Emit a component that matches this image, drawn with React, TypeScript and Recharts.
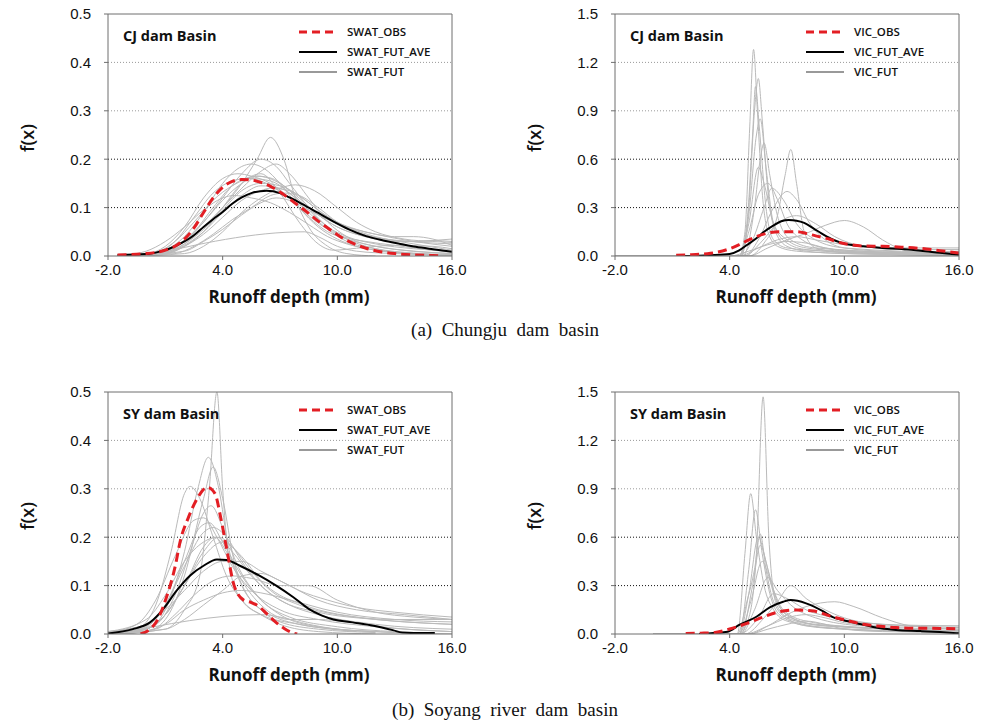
import React from 'react';
import { LineChart, Line, XAxis, YAxis, ReferenceLine } from 'recharts';

type Pt = [number, number];

// ---------- axes ----------
const X_TICKS = [-2, 4, 10, 16];
const SWAT_Y_TICKS = [0, 0.1, 0.2, 0.3, 0.4, 0.5];
const VIC_Y_TICKS = [0, 0.3, 0.6, 0.9, 1.2, 1.5];

// ---------- Chungju (CJ) SWAT ----------
const CJ_SWAT_OBS: Pt[] = [[-1.5,0.002],[0,0.005],[1,0.012],[1.5,0.02],[2,0.035],[2.5,0.058],[3,0.09],[3.5,0.12],[4,0.142],[4.5,0.154],[5,0.158],[5.5,0.157],[6,0.152],[6.5,0.144],[7,0.132],[7.5,0.118],[8,0.103],[8.5,0.088],[9,0.072],[9.5,0.058],[10,0.044],[10.5,0.032],[11,0.023],[11.5,0.016],[12,0.011],[13,0.005],[14,0.002],[15,0.001],[15.5,0]];
const CJ_SWAT_AVE: Pt[] = [[-1.5,0.002],[0,0.004],[0.7,0.009],[1.2,0.015],[2,0.03],[2.5,0.043],[3,0.06],[3.5,0.076],[4,0.091],[4.5,0.108],[5,0.121],[5.5,0.13],[6.3,0.135],[7,0.13],[7.5,0.121],[8,0.111],[8.9,0.091],[9.8,0.071],[10.6,0.055],[11.5,0.041],[12.4,0.032],[13.3,0.025],[14.1,0.019],[15,0.014],[16,0.009]];
const CJ_SWAT_FUT: Pt[][] = [
  [[-1.5,0],[1,0.01],[2,0.03],[3,0.06],[4,0.1],[5,0.15],[5.8,0.2],[6.5,0.245],[7.2,0.2],[7.8,0.12],[8.5,0.06],[9.5,0.02],[10.5,0.005],[12,0]],
  [[-1.5,0],[0,0.003],[1,0.012],[2,0.04],[3,0.09],[4,0.15],[5,0.185],[5.5,0.19],[6.2,0.18],[7,0.15],[8,0.1],[9,0.06],[10,0.035],[11,0.02],[12,0.012],[14,0.005],[16,0.002]],
  [[-1.5,0],[0,0.004],[1,0.02],[2,0.06],[3,0.12],[4,0.16],[4.8,0.17],[5.5,0.165],[6.5,0.15],[7.5,0.12],[8.5,0.08],[9.5,0.05],[10.5,0.035],[12,0.02],[14,0.01],[16,0.005]],
  [[-1.5,0],[0.5,0.005],[1.5,0.02],[2.5,0.05],[3.5,0.1],[4.5,0.145],[5.8,0.165],[7,0.15],[8,0.12],[9,0.085],[10,0.06],[11,0.045],[12,0.035],[13,0.03],[14,0.03],[15,0.032],[16,0.03]],
  [[-1.5,0],[1,0.008],[2,0.025],[3,0.055],[4,0.095],[5,0.135],[6,0.15],[7,0.145],[8,0.125],[9,0.095],[10,0.07],[11,0.055],[12,0.045],[13,0.04],[14,0.04],[15,0.035],[16,0.022]],
  [[-1,0],[1,0.005],[2,0.02],[3,0.045],[4,0.08],[5,0.115],[6,0.135],[6.5,0.14],[7.5,0.135],[8.5,0.11],[9.5,0.08],[10.5,0.06],[12,0.04],[14,0.025],[16,0.012]],
  [[-1,0],[1.5,0.005],[2.5,0.02],[3.5,0.045],[4.5,0.075],[5.5,0.1],[6.5,0.125],[7.2,0.13],[8,0.125],[9,0.1],[10,0.07],[11,0.05],[12.5,0.035],[14,0.03],[15,0.032],[16,0.035]],
  [[0,0],[8.3,0.05],[9,0.04],[10,0.02],[11,0.01],[13,0.005],[16,0.002]],
  [[-1.5,0],[0.5,0.006],[1.5,0.03],[2.5,0.08],[3.5,0.13],[4.5,0.155],[5.3,0.16],[6.3,0.15],[7.3,0.125],[8.3,0.09],[9.3,0.06],[10.3,0.04],[11.5,0.03],[13,0.022],[15,0.012],[16,0.008]],
  [[-1,0],[2,0.01],[3,0.03],[4,0.055],[5,0.085],[6,0.11],[6.8,0.12],[7.5,0.115],[8.5,0.095],[9.5,0.075],[10.5,0.06],[12,0.045],[14,0.03],[16,0.02]],
  [[-1.5,0],[1,0.01],[2,0.03],[3,0.07],[4,0.12],[5,0.17],[6,0.2],[6.8,0.185],[7.5,0.15],[8.5,0.1],[9.5,0.06],[10.5,0.035],[12,0.015],[14,0.005],[16,0.002]],
  [[-1,0],[1,0.004],[2,0.02],[3,0.05],[4,0.1],[5,0.15],[6,0.17],[7,0.13],[8,0.07],[9,0.025],[9.8,0.012],[11,0.016],[13,0.022],[15,0.02],[16,0.015]],
  [[-1,0],[2,0.005],[3,0.02],[4,0.05],[5,0.09],[6,0.12],[7,0.14],[7.8,0.147],[8.8,0.135],[10,0.1],[11,0.07],[12,0.05],[13.5,0.035],[15,0.03],[16,0.028]],
  [[-1.5,0],[0,0.01],[1,0.03],[2,0.06],[3,0.095],[4,0.12],[4.6,0.125],[5.5,0.12],[6.5,0.11],[7.5,0.09],[8.5,0.065],[9.5,0.04],[10.5,0.025],[12,0.012],[14,0.004],[16,0.001]],
  [[-1.5,0],[1,0.008],[2,0.03],[3,0.07],[4,0.115],[5,0.15],[5.8,0.165],[6.6,0.16],[7.5,0.135],[8.5,0.095],[9.5,0.06],[10.5,0.04],[12,0.025],[14,0.015],[16,0.01]],
  [[-1.5,0],[1,0.006],[2,0.022],[3,0.05],[4,0.09],[5,0.125],[6,0.145],[7,0.14],[8,0.115],[9,0.085],[10,0.06],[11,0.045],[12.5,0.035],[14.5,0.028],[16,0.025]],
  [[-1.5,0],[0.5,0.008],[1.5,0.03],[2.5,0.07],[3.5,0.115],[4.5,0.145],[5.5,0.16],[6.5,0.155],[7.5,0.13],[8.5,0.09],[9.5,0.055],[10.5,0.03],[12,0.015],[14,0.006],[16,0.003]],
  [[-1,0],[1,0.006],[2,0.025],[3,0.06],[4,0.1],[5,0.14],[6,0.175],[6.8,0.19],[7.5,0.17],[8.5,0.12],[9.5,0.07],[10.5,0.04],[12,0.02],[16,0.005]],
];

// ---------- Chungju (CJ) VIC ----------
const CJ_VIC_OBS: Pt[] = [[1.2,0.004],[2,0.008],[3,0.017],[4,0.045],[4.5,0.07],[5,0.1],[5.5,0.125],[6,0.142],[6.6,0.151],[7.5,0.151],[8,0.14],[8.5,0.125],[9.2,0.105],[9.8,0.082],[10.3,0.07],[11,0.062],[12,0.06],[13,0.055],[14,0.047],[15,0.033],[16,0.018]];
const CJ_VIC_AVE: Pt[] = [[1.5,0],[3,0.005],[4,0.013],[4.5,0.035],[4.9,0.068],[5.4,0.11],[5.8,0.15],[6.3,0.19],[6.7,0.215],[7.1,0.223],[7.5,0.219],[7.9,0.205],[8.4,0.17],[8.8,0.14],[9.3,0.107],[9.9,0.08],[10.4,0.068],[11,0.06],[12,0.05],[13,0.043],[14,0.033],[15,0.02],[16,0.008]];
const CJ_VIC_FUT: Pt[][] = [
  [[-2,0],[4.5,0],[4.8,0.15],[5.05,0.8],[5.25,1.28],[5.45,0.9],[5.7,0.4],[6,0.15],[6.5,0.06],[7.5,0.03],[9,0.02],[12,0.01],[16,0.005]],
  [[-2,0],[4.6,0],[5.0,0.3],[5.3,0.9],[5.5,1.1],[5.7,0.85],[6.0,0.4],[6.4,0.15],[7,0.06],[8,0.03],[10,0.015],[16,0.005]],
  [[-2,0],[4.5,0],[4.9,0.2],[5.2,0.75],[5.35,1.05],[5.55,0.8],[5.9,0.3],[6.3,0.1],[7,0.05],[9,0.03],[12,0.015],[16,0.01]],
  [[-2,0],[4.6,0],[5.0,0.25],[5.4,0.75],[5.6,0.85],[5.9,0.55],[6.3,0.2],[7,0.08],[8,0.04],[11,0.02],[16,0.01]],
  [[-2,0],[4.5,0],[5.0,0.2],[5.5,0.55],[5.8,0.45],[6.3,0.2],[7,0.1],[8,0.05],[10,0.03],[16,0.01]],
  [[-2,0],[4.5,0],[5.0,0.15],[5.5,0.38],[6.0,0.45],[6.5,0.35],[7,0.2],[7.8,0.1],[9,0.05],[11,0.03],[16,0.015]],
  [[-2,0],[5,0],[5.8,0.08],[6.5,0.25],[6.9,0.5],[7.2,0.66],[7.5,0.45],[7.9,0.15],[8.5,0.05],[10,0.02],[16,0.005]],
  [[-2,0],[4.8,0],[5.5,0.1],[6.3,0.3],[7,0.4],[7.5,0.35],[8.2,0.2],[9,0.1],[10,0.05],[12,0.03],[16,0.02]],
  [[-2,0],[5,0],[6,0.05],[7,0.1],[8,0.14],[9,0.19],[10,0.22],[11,0.18],[12,0.1],[13,0.04],[14,0.015],[16,0.005]],
  [[-2,0],[4.5,0],[5.2,0.1],[5.8,0.3],[6.2,0.42],[6.8,0.35],[7.5,0.2],[8.5,0.1],[10,0.05],[16,0.02]],
  [[-2,0],[4.8,0],[5.6,0.08],[6.5,0.2],[7.5,0.25],[8.5,0.2],[9.5,0.12],[11,0.06],[13,0.04],[16,0.04]],
  [[-2,0],[4.5,0],[5.5,0.05],[6.5,0.1],[7.5,0.12],[8.5,0.1],[10,0.07],[12,0.05],[14,0.05],[16,0.05]],
  [[-2,0],[4.7,0],[5.3,0.3],[5.6,0.6],[5.8,0.7],[6.1,0.5],[6.5,0.25],[7.2,0.1],[8.5,0.05],[16,0.01]],
  [[-2,0],[4,0],[5,0.03],[6,0.07],[7,0.09],[8,0.08],[9,0.05],[10,0.03],[12,0.02],[16,0.03]],
];

// ---------- Soyang (SY) SWAT ----------
const SY_SWAT_OBS: Pt[] = [[-0.3,0],[0.2,0.01],[0.6,0.03],[1.05,0.075],[1.5,0.137],[1.8,0.195],[2.2,0.24],[2.7,0.282],[3.2,0.303],[3.6,0.29],[3.9,0.24],[4.2,0.178],[4.6,0.1],[5.1,0.07],[5.5,0.065],[5.9,0.057],[6.3,0.042],[6.7,0.027],[7.2,0.012],[7.7,0.002],[7.9,0]];
const SY_SWAT_AVE: Pt[] = [[-2,0.001],[-0.7,0.01],[0.2,0.024],[0.9,0.052],[1.6,0.09],[2.3,0.121],[3,0.141],[3.7,0.154],[4.2,0.153],[4.9,0.141],[5.9,0.121],[6.8,0.1],[7.7,0.076],[8.5,0.052],[9.2,0.038],[9.8,0.03],[10.8,0.024],[11.9,0.017],[12.9,0.008],[13.4,0.003],[14,0.002],[15.1,0.002]];
const SY_SWAT_FUT: Pt[][] = [
  [[-2,0],[1,0.01],[2,0.05],[2.8,0.12],[3.3,0.3],[3.7,0.5],[4.0,0.3],[4.4,0.13],[5,0.07],[6,0.04],[7,0.02],[9,0.005],[12,0]],
  [[-2,0],[0,0.01],[1,0.05],[2,0.17],[2.7,0.3],[3.25,0.365],[3.8,0.3],[4.3,0.18],[5,0.1],[6,0.05],[7,0.025],[9,0.01],[12,0.003]],
  [[-2,0],[0,0.005],[1,0.03],[2,0.12],[3,0.28],[3.5,0.345],[4,0.28],[4.6,0.15],[5.3,0.08],[6.5,0.04],[8,0.02],[10,0.01],[13,0.003]],
  [[-2,0],[-0.5,0.01],[0.5,0.06],[1.3,0.17],[2,0.29],[2.3,0.305],[2.8,0.28],[3.5,0.2],[4.2,0.12],[5,0.07],[6,0.04],[8,0.02],[11,0.005]],
  [[-2,0.003],[-0.5,0.02],[0.5,0.07],[1.5,0.16],[2.5,0.235],[3,0.24],[3.7,0.2],[4.5,0.14],[5.5,0.09],[7,0.05],[9,0.03],[12,0.015],[16,0.005]],
  [[-2,0.005],[0,0.02],[1,0.06],[2,0.14],[3,0.21],[3.5,0.22],[4.2,0.2],[5,0.15],[6,0.1],[7.5,0.06],[9,0.04],[12,0.02],[16,0.01]],
  [[-2,0],[0,0.01],[1,0.04],[2,0.1],[3,0.17],[3.8,0.2],[4.5,0.18],[5.5,0.13],[6.5,0.09],[8,0.06],[10,0.04],[13,0.03],[16,0.03]],
  [[-2,0.005],[0,0.02],[1,0.05],[2,0.09],[3,0.13],[4,0.15],[5,0.15],[6,0.13],[7.5,0.1],[9,0.07],[11,0.05],[13.5,0.04],[16,0.03]],
  [[-2,0],[0.5,0.01],[1.5,0.04],[2.5,0.08],[3.5,0.11],[4.5,0.12],[5.5,0.115],[7,0.1],[8.5,0.1],[10,0.07],[12,0.045],[14,0.035],[16,0.03]],
  [[-1,0],[1,0.02],[2,0.05],[3,0.07],[4,0.085],[5,0.09],[6,0.085],[7.5,0.07],[9,0.05],[11,0.035],[13.5,0.025],[16,0.02]],
  [[-1.5,0],[6,0.04],[7,0.035],[8.5,0.02],[10,0.01],[12,0.005],[16,0]],
  [[-2,0],[0,0.01],[1,0.04],[2,0.1],[3,0.18],[3.6,0.2],[4.2,0.17],[5,0.11],[6,0.06],[7.5,0.03],[9,0.03],[10.5,0.025],[13,0.012],[16,0.005]],
  [[-2,0],[1,0.01],[2,0.03],[3,0.06],[4,0.09],[5,0.12],[6,0.125],[7,0.11],[8,0.09],[9.5,0.07],[11,0.055],[13,0.045],[16,0.035]],
  [[-2,0],[0.5,0.02],[1.5,0.08],[2.3,0.17],[3,0.25],[3.4,0.265],[4,0.22],[4.8,0.14],[5.8,0.08],[7,0.04],[9,0.015],[12,0.005]],
  [[-2,0],[0,0.015],[1,0.06],[2,0.15],[2.8,0.22],[3.3,0.23],[4,0.19],[5,0.12],[6,0.07],[7.5,0.035],[10,0.015],[13,0.005]],
  [[-2,0.005],[0,0.03],[1,0.08],[2,0.15],[3,0.19],[3.7,0.2],[4.5,0.17],[5.5,0.12],[7,0.07],[9,0.045],[12,0.03],[16,0.02]],
  [[-2,0],[0,0.01],[1,0.04],[2,0.1],[3,0.16],[4,0.19],[5,0.16],[6,0.11],[7,0.08],[8.5,0.06],[10,0.045],[13,0.03],[16,0.025]],
];

// ---------- Soyang (SY) VIC ----------
const SY_VIC_OBS: Pt[] = [[1.7,0.003],[2.5,0.005],[3.15,0.008],[4,0.031],[4.9,0.066],[5.8,0.107],[6.6,0.138],[7.5,0.149],[8.4,0.142],[9.3,0.11],[10.1,0.085],[11,0.06],[11.9,0.048],[12.7,0.04],[13.6,0.036],[14.5,0.035],[16,0.033]];
const SY_VIC_AVE: Pt[] = [[2.4,0],[3.15,0.006],[3.9,0.014],[4.5,0.056],[5.4,0.107],[6.1,0.165],[6.8,0.2],[7.2,0.21],[8,0.19],[8.9,0.14],[9.4,0.105],[9.8,0.09],[10.6,0.068],[11.9,0.035],[12.7,0.025],[14,0.018],[15,0.012],[16,0.004]];
const SY_VIC_FUT: Pt[][] = [
  [[0,0],[4.5,0],[5.0,0.1],[5.4,0.5],[5.75,1.47],[6.05,0.6],[6.4,0.2],[7,0.1],[8,0.05],[10,0.03],[16,0.01]],
  [[0,0],[4.4,0],[4.8,0.5],[5.1,0.87],[5.4,0.6],[5.8,0.3],[6.3,0.15],[7,0.08],[9,0.04],[16,0.01]],
  [[0,0],[4.5,0],[5.0,0.4],[5.35,0.77],[5.7,0.5],[6.1,0.25],[6.6,0.12],[7.5,0.07],[10,0.03],[16,0.01]],
  [[0,0],[4.5,0],[5.0,0.25],[5.5,0.6],[5.9,0.45],[6.3,0.25],[7,0.12],[8.5,0.06],[16,0.02]],
  [[0,0],[4.6,0],[5.2,0.3],[5.6,0.55],[6.0,0.4],[6.5,0.2],[7.2,0.1],[9,0.05],[16,0.02]],
  [[0,0],[4.5,0],[5.1,0.2],[5.7,0.45],[6.2,0.3],[6.8,0.15],[8,0.08],[11,0.04],[16,0.02]],
  [[0,0],[4.6,0],[5.3,0.15],[6,0.35],[6.5,0.27],[7.2,0.18],[8.5,0.1],[11,0.05],[16,0.03]],
  [[0,0],[4.8,0],[5.8,0.1],[6.5,0.2],[7.2,0.3],[8,0.22],[9,0.15],[10,0.1],[12,0.06],[16,0.04]],
  [[0,0],[5,0],[6,0.05],[7,0.12],[8,0.17],[9.5,0.2],[10.5,0.17],[12,0.1],[13.5,0.05],[16,0.03]],
  [[0,0],[4.5,0],[5.5,0.1],[6.3,0.25],[7,0.22],[8,0.15],[9.5,0.1],[12,0.06],[16,0.05]],
  [[0,0],[4.8,0],[6,0.05],[7,0.1],[8,0.12],[9,0.1],[10,0.07],[12,0.05],[16,0.05]],
  [[0,0],[4.4,0],[4.9,0.2],[5.3,0.4],[5.6,0.62],[5.9,0.4],[6.3,0.2],[7,0.1],[9,0.05],[16,0.02]],
  [[0,0],[5,0],[6,0.03],[7,0.06],[8,0.08],[9,0.06],[10,0.03],[12,0.015],[16,0.01]],
];

const toData = (a: Pt[]) => a.map(([x, y]) => ({ x, y }));
const fmt = (v: number) => v.toFixed(1);

const AXIS_COLOR = '#6e6e6e';
const GRAY = '#bababa';
const RED = '#e31e24';
const TICK_STYLE = { fill: '#111', fontSize: 15, fontFamily: '"Liberation Sans", Arial, sans-serif' };
const UI_FONT = '"Open Sans", "Noto Sans", sans-serif';

interface PanelProps {
  left: number;
  top: number;
  basin: string;
  model: string;
  yTicks: number[];
  obs: Pt[];
  ave: Pt[];
  fut: Pt[][];
}

function Panel({ left, top, basin, model, yTicks, obs, ave, fut }: PanelProps) {
  const yMax = yTicks[yTicks.length - 1];
  const grid = yTicks.slice(1, -1);
  return (
    <div style={{ position: 'absolute', left, top, width: 480, height: 320 }}>
      <LineChart width={480} height={320} margin={{ top: 4, right: 18, bottom: 34, left: 48 }}>
        <XAxis xAxisId="b" type="number" dataKey="x" domain={[-2, 16]} ticks={X_TICKS} interval={0}
          allowDataOverflow tickFormatter={fmt} stroke={AXIS_COLOR} tick={TICK_STYLE}
          tickSize={4} tickMargin={4} height={30} />
        <XAxis xAxisId="t" orientation="top" type="number" dataKey="x" domain={[-2, 16]} ticks={X_TICKS}
          interval={0} allowDataOverflow tick={false} stroke={AXIS_COLOR} tickSize={4} height={10} />
        <YAxis yAxisId="l" type="number" domain={[0, yMax]} ticks={yTicks} interval={0} allowDataOverflow
          tickFormatter={fmt} stroke={AXIS_COLOR} tick={TICK_STYLE} tickSize={4} tickMargin={13} width={60} />
        <YAxis yAxisId="r" orientation="right" type="number" domain={[0, yMax]} ticks={yTicks} interval={0}
          allowDataOverflow tick={false} stroke={AXIS_COLOR} tickSize={4} width={10} />
        {grid.map((g, i) => (
          <ReferenceLine key={'g' + i} xAxisId="b" yAxisId="l" y={g}
            stroke={i >= 2 ? '#9a9a9a' : '#111'} strokeDasharray="1 2" strokeWidth={1} />
        ))}
        {fut.map((c, i) => (
          <Line key={'f' + i} xAxisId="b" yAxisId="l" data={toData(c)} dataKey="y" type="monotone"
            stroke={GRAY} strokeWidth={1} dot={false} activeDot={false} isAnimationActive={false} />
        ))}
        <Line xAxisId="b" yAxisId="l" data={toData(ave)} dataKey="y" type="monotone" stroke="#000"
          strokeWidth={2} dot={false} activeDot={false} isAnimationActive={false} />
        <Line xAxisId="b" yAxisId="l" data={toData(obs)} dataKey="y" type="monotone" stroke={RED}
          strokeWidth={3} strokeDasharray="9 5" dot={false} activeDot={false} isAnimationActive={false} />
      </LineChart>
      <svg width={480} height={320} style={{ position: 'absolute', left: 0, top: 0, pointerEvents: 'none' }}>
        <text x={123} y={41} fontFamily={UI_FONT} fontWeight={700} fontSize={14.5} fill="#111">{basin}</text>
        <line x1={299} x2={337} y1={32} y2={32} stroke={RED} strokeWidth={3} strokeDasharray="8 5" />
        <line x1={299} x2={337} y1={52} y2={52} stroke="#000" strokeWidth={2} />
        <line x1={299} x2={337} y1={72} y2={72} stroke="#999" strokeWidth={2} />
        <text x={347} y={36} fontFamily={UI_FONT} fontWeight={600} fontSize={11.5} fill="#111">{model}_OBS</text>
        <text x={347} y={56} fontFamily={UI_FONT} fontWeight={600} fontSize={11.5} fill="#111">{model}_FUT_AVE</text>
        <text x={347} y={76} fontFamily={UI_FONT} fontWeight={600} fontSize={11.5} fill="#111">{model}_FUT</text>
        <text x={289} y={303} textAnchor="middle" fontFamily={UI_FONT} fontWeight={700} fontSize={17} fill="#111">
          Runoff depth (mm)
        </text>
        <text x={0} y={0} transform="translate(34,138) rotate(-90)" textAnchor="middle" fontFamily={UI_FONT}
          fontWeight={600} fontSize={18} fill="#111">f(x)</text>
      </svg>
    </div>
  );
}

const captionStyle: React.CSSProperties = {
  position: 'absolute',
  left: 20,
  width: 970,
  textAlign: 'center',
  whiteSpace: 'pre',
  fontFamily: '"Liberation Serif", "Times New Roman", serif',
  fontSize: 19,
  lineHeight: '22px',
  color: '#111',
};

export default function App() {
  return (
    <div style={{ position: 'absolute', left: 0, top: 0, width: 990, height: 727, background: '#fff', overflow: 'hidden' }}>
      <Panel left={0} top={0} basin="CJ dam Basin" model="SWAT" yTicks={SWAT_Y_TICKS}
        obs={CJ_SWAT_OBS} ave={CJ_SWAT_AVE} fut={CJ_SWAT_FUT} />
      <Panel left={507} top={0} basin="CJ dam Basin" model="VIC" yTicks={VIC_Y_TICKS}
        obs={CJ_VIC_OBS} ave={CJ_VIC_AVE} fut={CJ_VIC_FUT} />
      <div style={{ ...captionStyle, top: 319 }}>{'(a)  Chungju  dam  basin'}</div>
      <Panel left={0} top={378} basin="SY dam Basin" model="SWAT" yTicks={SWAT_Y_TICKS}
        obs={SY_SWAT_OBS} ave={SY_SWAT_AVE} fut={SY_SWAT_FUT} />
      <Panel left={507} top={378} basin="SY dam Basin" model="VIC" yTicks={VIC_Y_TICKS}
        obs={SY_VIC_OBS} ave={SY_VIC_AVE} fut={SY_VIC_FUT} />
      <div style={{ ...captionStyle, top: 699 }}>{'(b)  Soyang  river  dam  basin'}</div>
    </div>
  );
}
